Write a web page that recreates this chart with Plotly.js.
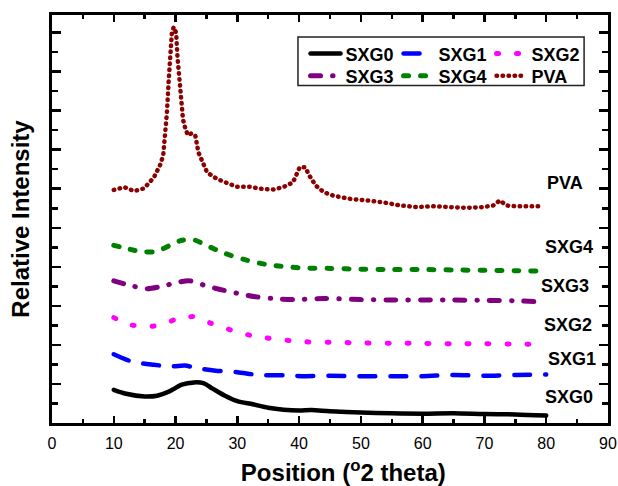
<!DOCTYPE html>
<html>
<head>
<meta charset="utf-8">
<script src="https://cdn.plot.ly/plotly-3.0.1.min.js"></script>
<style>
  html, body { margin: 0; padding: 0; background: #fff; }
  #chart { width: 618px; height: 486px; }
  path.js-line { stroke-linecap: round !important; stroke-linejoin: round !important; }
</style>
</head>
<body>
<div id="chart"></div>
<script>
// ---- data (x = 2θ position, y = relative intensity, offset stacks) ----
var sxg0X = [10, 12, 15, 17, 19, 21, 23, 24.5, 26, 28, 30, 32.5, 35, 37.5, 40, 42, 45, 50, 55, 60, 65, 70, 75, 80];
var sxg0Y = [0.85, 0.75, 0.68, 0.70, 0.81, 0.98, 1.04, 1.02, 0.88, 0.70, 0.56, 0.48, 0.39, 0.34, 0.32, 0.33, 0.30, 0.27, 0.25, 0.24, 0.25, 0.23, 0.22, 0.19];

var sxg1X = [10, 13, 16.5, 19.5, 21.5, 24, 26.5, 30, 33.5, 37.5, 41, 45, 50, 55, 60, 65, 70, 75, 80];
var sxg1Y = [1.76, 1.57, 1.49, 1.45, 1.47, 1.39, 1.34, 1.30, 1.23, 1.22, 1.20, 1.21, 1.20, 1.20, 1.20, 1.23, 1.21, 1.23, 1.24];

var sxg2X = [10, 12.3, 15.3, 18, 20.4, 23.3, 25.8, 29, 32, 34.7, 38, 41, 45, 50, 55, 60, 65, 70, 75, 80];
var sxg2Y = [2.70, 2.53, 2.47, 2.53, 2.68, 2.72, 2.55, 2.38, 2.25, 2.18, 2.12, 2.08, 2.07, 2.05, 2.04, 2.04, 2.03, 2.03, 2.02, 2.01];

var sxg3X = [10, 13, 15.3, 18, 20.3, 22.3, 25, 27.2, 30.4, 33.1, 35.8, 39, 44, 50, 55, 60, 65, 70, 75, 79.5];
var sxg3Y = [3.64, 3.51, 3.44, 3.51, 3.60, 3.64, 3.51, 3.42, 3.31, 3.23, 3.19, 3.16, 3.19, 3.16, 3.15, 3.15, 3.15, 3.14, 3.13, 3.10];

var sxg4X = [10, 12.6, 14.8, 17, 19.1, 21, 22.8, 25, 27.7, 31.5, 34.7, 37.9, 41, 45, 50, 55, 60, 65, 70, 75, 80];
var sxg4Y = [4.55, 4.45, 4.38, 4.40, 4.55, 4.68, 4.70, 4.55, 4.36, 4.17, 4.06, 4.00, 3.97, 3.96, 3.94, 3.93, 3.93, 3.92, 3.91, 3.90, 3.89];

var pvaX = [10, 11.7, 13.3, 14.9, 16.5, 17.5, 18, 18.3, 18.6, 18.9, 19.1, 19.4, 19.7, 20.1, 20.3, 20.6, 20.9, 21.2, 21.6, 22, 22.6, 23.2, 23.7, 24.3, 25.1, 26.7, 28.3, 29.9, 32, 34.2, 35.8, 37.4, 39, 40.1, 41, 41.6, 42.7, 44, 45.6, 48.3, 51, 53.7, 56.4, 59.1, 61.7, 64.4, 67.1, 69.8, 71.4, 72.5, 73.6, 75.2, 79.5];
var pvaY = [5.97, 6.04, 5.94, 6.01, 6.29, 6.61, 6.85, 7.36, 7.95, 8.80, 9.48, 9.99, 10.14, 9.99, 9.40, 8.88, 8.25, 7.78, 7.53, 7.37, 7.42, 7.36, 6.93, 6.72, 6.42, 6.25, 6.16, 6.05, 6.05, 5.99, 5.98, 6.04, 6.16, 6.55, 6.55, 6.35, 6.08, 5.91, 5.82, 5.74, 5.70, 5.65, 5.57, 5.53, 5.55, 5.53, 5.51, 5.53, 5.57, 5.70, 5.57, 5.55, 5.55];

var seriesNames = ['SXG0', 'SXG1', 'SXG2', 'SXG3', 'SXG4', 'PVA'];
var xTickVals = [0, 10, 20, 30, 40, 50, 60, 70, 80, 90];
var xTickText = ['0', '10', '20', '30', '40', '50', '60', '70', '80', '90'];
var labelNames = ['PVA', 'SXG4', 'SXG3', 'SXG2', 'SXG1', 'SXG0'];

// ---- traces ----
var font = 'Arial, "Liberation Sans", sans-serif';
var styles = [
  {color: '#000000', width: 4.5, dash: 'solid', shape: 'spline', legend: 'legend'},
  {color: '#0000FF', width: 4.5, dash: '16px,15px', shape: 'spline', legend: 'legend'},
  {color: '#FF00FF', width: 5,   dash: '2px,18px', shape: 'spline', legend: 'legend'},
  {color: '#800080', width: 5,   dash: '10px,12px,0.5px,12px', shape: 'spline', legend: 'legend2'},
  {color: '#008000', width: 5,   dash: '5px,12px', shape: 'spline', legend: 'legend2'},
  {color: '#8B0000', width: 4.5, dash: '0.5px,5.5px', shape: 'linear', legend: 'legend2'}
];
var xs = [sxg0X, sxg1X, sxg2X, sxg3X, sxg4X, pvaX];
var ys = [sxg0Y, sxg1Y, sxg2Y, sxg3Y, sxg4Y, pvaY];

var traces = seriesNames.map(function (name, i) {
  var s = styles[i];
  return {
    type: 'scatter', mode: 'lines', name: name, legend: s.legend,
    x: xs[i], y: ys[i],
    line: {color: s.color, width: s.width, dash: s.dash, shape: s.shape, smoothing: 0.8}
  };
});

// right-hand labels
var labelPos = {
  'PVA':  [83.1, 6.15],
  'SXG4': [83.7, 4.52],
  'SXG3': [83.1, 3.52],
  'SXG2': [83.5, 2.50],
  'SXG1': [84.1, 1.63],
  'SXG0': [83.7, 0.66]
};
var annotations = labelNames.map(function (n) {
  return {
    x: labelPos[n][0], y: labelPos[n][1], xref: 'x', yref: 'y',
    text: n, showarrow: false, xanchor: 'center', yanchor: 'middle',
    font: {family: font, size: 18, color: '#000', weight: 'bold'}
  };
});

function legendBox(yTop) {
  return {
    orientation: 'h',
    x: 0.456, y: yTop, xanchor: 'left', yanchor: 'top',
    xref: 'paper', yref: 'paper',
    entrywidth: 48, entrywidthmode: 'pixels',
    bgcolor: 'rgba(0,0,0,0)', borderwidth: 0,
    font: {family: font, size: 18, color: '#000', weight: 'bold'},
    itemwidth: 30
  };
}

var layout = {
  width: 618, height: 486,
  margin: {l: 52, r: 10, t: 15, b: 63, pad: 0},
  paper_bgcolor: '#ffffff', plot_bgcolor: '#ffffff',
  showlegend: true,
  legend: legendBox(0.950),
  legend2: legendBox(0.896),
  shapes: [{
    type: 'rect', xref: 'paper', yref: 'paper',
    x0: 0.4424, x1: 0.957, y0: 0.827, y1: 0.946,
    line: {color: '#222', width: 1.5}, fillcolor: 'rgba(255,255,255,1)', layer: 'below'
  }],
  xaxis: {
    range: [0, 90], tickvals: xTickVals, ticktext: xTickText,
    ticks: 'inside', ticklen: 7, tickwidth: 2.5, tickcolor: '#000',
    minor: {dtick: 5, tick0: 0, ticks: 'inside', ticklen: 4, tickwidth: 2.5, tickcolor: '#000', showgrid: false},
    showline: true, linewidth: 3, linecolor: '#000', mirror: 'ticks',
    showgrid: false, zeroline: false,
    ticklabelstandoff: 4,
    tickfont: {family: font, size: 16, color: '#000'},
    title: {text: '&nbsp;&nbsp;&nbsp;&nbsp;Position (<sup>o</sup>2 theta)', font: {family: font, size: 24, color: '#000', weight: 'bold'}, standoff: 16}
  },
  yaxis: {
    range: [0, 10.45], dtick: 1, tick0: 0,
    ticks: 'inside', ticklen: 9, tickwidth: 2.5, tickcolor: '#000',
    minor: {dtick: 0.5, tick0: 0, ticks: 'inside', ticklen: 6, tickwidth: 2.5, tickcolor: '#000', showgrid: false},
    showticklabels: false,
    showline: true, linewidth: 3, linecolor: '#000', mirror: 'ticks',
    showgrid: false, zeroline: false,
    title: {text: 'Relative Intensity', font: {family: font, size: 24, color: '#000', weight: 'bold'}, standoff: 13}
  },
  annotations: annotations
};

Plotly.newPlot('chart', traces, layout, {staticPlot: true, displayModeBar: false});
</script>
</body>
</html>
